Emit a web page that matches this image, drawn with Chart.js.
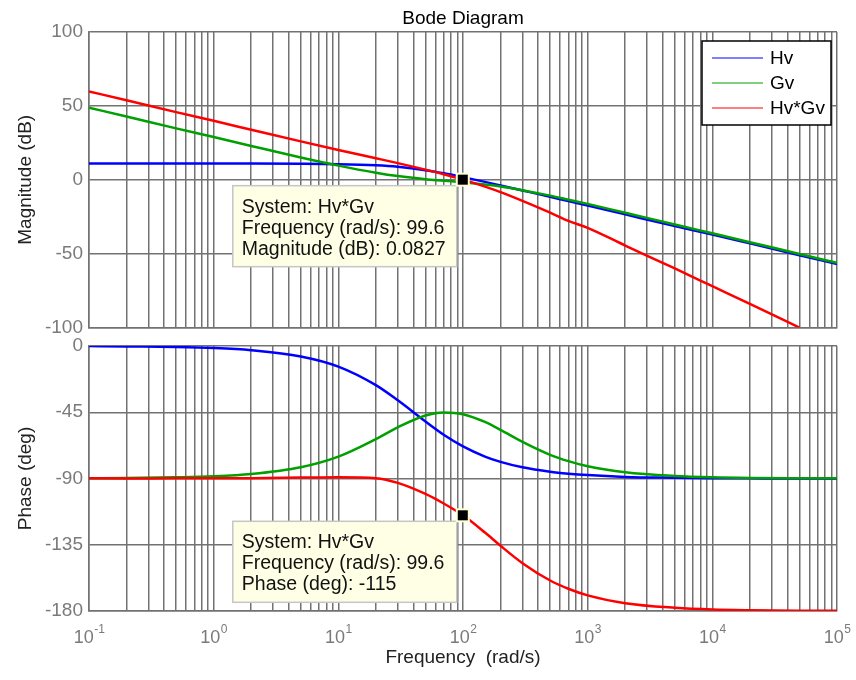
<!DOCTYPE html>
<html>
<head>
<meta charset="utf-8">
<script src="https://cdn.jsdelivr.net/npm/chart.js@4.4.0/dist/chart.umd.min.js"></script>
<style>
    body { margin: 0; background: #ffffff; }
    #grafico_magnitude { position: absolute; left: 0; top: 0; }
    #grafico_fase { position: absolute; left: 0; top: 320px; }
</style>
</head>
<body>
<canvas id="grafico_magnitude" width="856" height="345"></canvas>
<canvas id="grafico_fase" width="856" height="360"></canvas>
<script>
var frequencias = [0.1, 0.2, 0.5, 1, 2, 5, 10, 20, 30, 50, 70, 100, 150, 200, 300, 500, 700, 1000, 2000, 5000, 10000, 20000, 50000, 100000];

var magHv = [11.0, 11.0, 11.0, 11.0, 11.0, 10.9, 10.6, 9.8, 8.8, 6.5, 4.4, 1.8, -1.4, -3.8, -7.2, -11.5, -14.4, -17.4, -23.4, -31.3, -37.0, -43.0, -51.0, -57.0];
var magGv = [48.8, 42.8, 34.8, 28.9, 22.9, 15.1, 9.6, 4.8, 2.5, 0.4, -0.6, -1.7, -3.2, -4.5, -7.0, -10.7, -13.4, -16.3, -22.3, -30.2, -36.2, -42.2, -50.2, -56.2];
var magHvGv = [59.8, 53.8, 45.8, 39.9, 33.9, 26.0, 20.2, 14.6, 11.3, 6.9, 3.8, 0.1, -4.6, -8.3, -14.2, -22.2, -27.8, -32.5, -44.5, -60.0, -72.0, -84.0, -100.0, null];

var faseHv = [0, -0.3, -0.7, -1.4, -2.9, -7.1, -14.0, -26.6, -36.9, -51.3, -60.3, -68.2, -75.1, -78.7, -82.4, -85.4, -86.7, -87.7, -88.9, -89.5, -89.8, -89.9, -90, -90];
var faseGv = [-89.8, -89.7, -89.2, -88.5, -86.9, -82.3, -75.1, -63.2, -55.2, -47.2, -45.1, -46.3, -51.6, -57.0, -65.1, -73.9, -78.2, -81.7, -85.8, -88.3, -89.2, -89.6, -89.8, -89.9];
var faseHvGv = [-89.8, -90.0, -89.9, -89.9, -89.8, -89.4, -89.1, -89.8, -93.0, -100.5, -107.0, -115.0, -126.7, -135.7, -147.5, -159.3, -164.9, -169.4, -174.7, -177.8, -179.0, -179.5, -179.8, -179.9];

var nomesSeries = ["Hv", "Gv", "Hv*Gv"];
var coresSeries = ["#0000ff", "#00a000", "#ff0000"];

// Rotulos do eixo x (10^n) e ticks do eixo y
var decadas = [-1, 0, 1, 2, 3, 4, 5];
var ticksMagnitude = [-100, -50, 0, 50, 100];
var ticksFase = [-180, -135, -90, -45, 0];

// Ponto marcado (datatip)
var datatipFreq = 99.6;
var datatipMag = 0.0827;
var datatipFase = -115;

var fonte = "'Liberation Sans', Arial, sans-serif";
var corGrade = "#727272";
var corTicks = "#7a7a7a";
var corTexto = "#222222";

Chart.defaults.font.family = fonte;

// linhas de grade em 1..9 x 10^n
var ticksLog = [];
for (let i = 0; i < decadas.length - 1; i++) {
    for (let k = 1; k <= 9; k++) {
        ticksLog.push(k * Math.pow(10, decadas[i]));
    }
}
ticksLog.push(Math.pow(10, decadas[decadas.length - 1]));

function montarPontos(valores) {
    let pontos = [];
    for (let i = 0; i < frequencias.length; i++) {
        if (valores[i] !== null) {
            pontos.push({ x: frequencias[i], y: valores[i] });
        }
    }
    return pontos;
}

function montarDatasets(series) {
    let datasets = [];
    // ordem: Hv*Gv por cima, depois Gv, depois Hv
    let ordem = [3, 2, 1];
    for (let i = 0; i < series.length; i++) {
        datasets.push({
            label: nomesSeries[i],
            data: montarPontos(series[i]),
            borderColor: coresSeries[i],
            backgroundColor: coresSeries[i],
            borderWidth: 2.5,
            pointRadius: 0,
            cubicInterpolationMode: 'monotone',
            fill: false,
            order: ordem[i]
        });
    }
    return datasets;
}

function eixoX(alturaEixo, comTitulo) {
    return {
        type: 'logarithmic',
        min: Math.pow(10, decadas[0]),
        max: Math.pow(10, decadas[decadas.length - 1]),
        afterBuildTicks: function (escala) {
            escala.ticks = ticksLog.map(v => ({ value: v }));
        },
        afterFit: function (escala) {
            escala.height = alturaEixo;
        },
        ticks: { display: false },
        grid: { color: corGrade, lineWidth: 1.5, drawTicks: false },
        border: { color: corGrade, width: 1.5 },
        title: {
            display: comTitulo,
            text: "Frequency  (rad/s)",
            color: corTexto,
            font: { size: 19 },
            padding: { top: 0, bottom: 11 }
        }
    };
}

function eixoY(valoresTicks, titulo) {
    return {
        min: valoresTicks[0],
        max: valoresTicks[valoresTicks.length - 1],
        afterBuildTicks: function (escala) {
            escala.ticks = valoresTicks.map(v => ({ value: v }));
        },
        afterFit: function (escala) {
            escala.width = 89;
        },
        ticks: { color: corTicks, font: { size: 19 }, padding: 6 },
        grid: { color: corGrade, lineWidth: 1.5, drawTicks: false },
        border: { color: corGrade, width: 1.5 },
        title: {
            display: true,
            text: titulo,
            color: corTexto,
            font: { size: 19 },
            padding: { top: 14, bottom: 0 }
        }
    };
}

function desenharDatatip(chart, valorY, linhas) {
    const ctx = chart.ctx;
    const mx = chart.scales.x.getPixelForValue(datatipFreq);
    const my = chart.scales.y.getPixelForValue(valorY);
    const esq = mx - 230;
    const topo = my + 6;
    ctx.save();
    ctx.fillStyle = "#ffffe6";
    ctx.fillRect(esq, topo, 224, 81);
    ctx.strokeStyle = "#c6c6c6";
    ctx.lineWidth = 1.5;
    ctx.strokeRect(esq, topo, 224, 81);
    ctx.fillStyle = "#111111";
    ctx.font = "19.5px " + fonte;
    ctx.textAlign = "left";
    ctx.textBaseline = "alphabetic";
    for (let i = 0; i < linhas.length; i++) {
        ctx.fillText(linhas[i], esq + 9, topo + 27 + i * 21);
    }
    // marcador quadrado
    ctx.fillStyle = "#ffffd2";
    ctx.fillRect(mx - 7, my - 7, 14, 14);
    ctx.fillStyle = "#000000";
    ctx.fillRect(mx - 5, my - 5, 10, 10);
    ctx.restore();
}

function desenharLegenda(chart) {
    const ctx = chart.ctx;
    const area = chart.chartArea;
    const larg = 129, alt = 84;
    const esq = area.right - 6 - larg;
    const topo = area.top + 9;
    ctx.save();
    ctx.fillStyle = "#ffffff";
    ctx.fillRect(esq, topo, larg, alt);
    ctx.strokeStyle = "#000000";
    ctx.lineWidth = 1.5;
    ctx.strokeRect(esq, topo, larg, alt);
    ctx.font = "19px " + fonte;
    ctx.textBaseline = "middle";
    ctx.textAlign = "left";
    for (let i = 0; i < nomesSeries.length; i++) {
        const y = topo + 17 + i * 25;
        ctx.strokeStyle = coresSeries[i];
        ctx.lineWidth = 1.2;
        ctx.beginPath();
        ctx.moveTo(esq + 10, y);
        ctx.lineTo(esq + 61, y);
        ctx.stroke();
        ctx.fillStyle = "#000000";
        ctx.fillText(nomesSeries[i], esq + 68, y + 1);
    }
    ctx.restore();
}

function desenharRotulosX(chart) {
    const ctx = chart.ctx;
    const base = chart.chartArea.bottom + 32;
    ctx.save();
    ctx.fillStyle = corTicks;
    ctx.textAlign = "left";
    ctx.textBaseline = "alphabetic";
    for (let i = 0; i < decadas.length; i++) {
        const px = chart.scales.x.getPixelForValue(Math.pow(10, decadas[i]));
        const expoente = String(decadas[i]);
        ctx.font = "18px " + fonte;
        const wBase = ctx.measureText("10").width;
        ctx.font = "12px " + fonte;
        const wExp = ctx.measureText(expoente).width;
        const x0 = px - (wBase + wExp) / 2;
        ctx.font = "18px " + fonte;
        ctx.fillText("10", x0, base);
        ctx.font = "12px " + fonte;
        ctx.fillText(expoente, x0 + wBase + 0.5, base - 10);
    }
    ctx.restore();
}

function plotarMagnitude() {
    const config = {
        type: 'line',
        data: { datasets: montarDatasets([magHv, magGv, magHvGv]) },
        options: {
            responsive: false,
            animation: false,
            devicePixelRatio: 1,
            layout: { padding: { top: 32, right: 19, bottom: 13, left: 0 } },
            plugins: { legend: { display: false }, tooltip: { enabled: false } },
            scales: {
                x: eixoX(0, false),
                y: eixoY(ticksMagnitude, "Magnitude (dB)")
            }
        },
        plugins: [{
            id: 'extrasMagnitude',
            afterDraw: function (chart) {
                const ctx = chart.ctx;
                ctx.save();
                ctx.fillStyle = "#000000";
                ctx.font = "19px " + fonte;
                ctx.textAlign = "center";
                ctx.textBaseline = "middle";
                ctx.fillText("Bode Diagram", (chart.chartArea.left + chart.chartArea.right) / 2, 19);
                ctx.restore();
                desenharLegenda(chart);
                desenharDatatip(chart, datatipMag, [
                    "System: Hv*Gv",
                    "Frequency (rad/s): " + datatipFreq,
                    "Magnitude (dB): " + datatipMag
                ]);
            }
        }]
    };
    new Chart(document.getElementById("grafico_magnitude"), config);
}

function plotarFase() {
    const config = {
        type: 'line',
        data: { datasets: montarDatasets([faseHv, faseGv, faseHvGv]) },
        options: {
            responsive: false,
            animation: false,
            devicePixelRatio: 1,
            layout: { padding: { top: 26, right: 19, bottom: 0, left: 0 } },
            plugins: { legend: { display: false }, tooltip: { enabled: false } },
            scales: {
                x: eixoX(69, true),
                y: eixoY(ticksFase, "Phase (deg)")
            }
        },
        plugins: [{
            id: 'extrasFase',
            afterDraw: function (chart) {
                desenharRotulosX(chart);
                desenharDatatip(chart, datatipFase, [
                    "System: Hv*Gv",
                    "Frequency (rad/s): " + datatipFreq,
                    "Phase (deg): " + datatipFase
                ]);
            }
        }]
    };
    new Chart(document.getElementById("grafico_fase"), config);
}

plotarMagnitude();
plotarFase();
</script>
</body>
</html>
